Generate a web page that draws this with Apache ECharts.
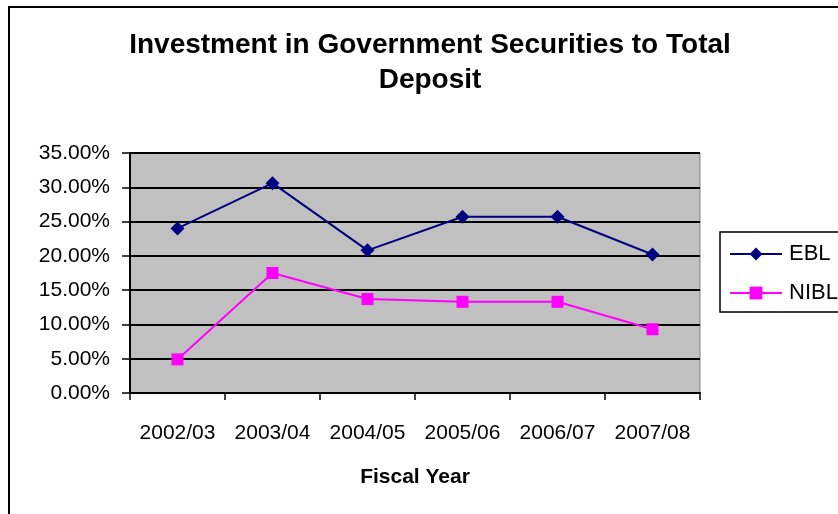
<!DOCTYPE html>
<html>
<head>
<meta charset="utf-8">
<script src="https://cdn.jsdelivr.net/npm/echarts@6/dist/echarts.min.js"></script>
<style>
html,body{margin:0;padding:0;background:#fff;}
#c{width:838px;height:514px;}
</style>
</head>
<body>
<div id="c"></div>
<script>
var categories = ['2002/03','2003/04','2004/05','2005/06','2006/07','2007/08'];
var ebl = [24.0, 30.6, 20.8, 25.7, 25.7, 20.2];
var nibl = [4.9, 17.5, 13.7, 13.3, 13.3, 9.3];
var yTicks = [0, 5, 10, 15, 20, 25, 30, 35];

var chart = echarts.init(document.getElementById('c'), null, {renderer:'canvas'});
var font = 'Liberation Sans, Arial, sans-serif';
chart.setOption({
  animation: false,
  backgroundColor: '#fff',
  textStyle: {fontFamily: font},
  graphic: [{
    type: 'rect', z: -10,
    shape: {x: 9, y: 7, width: 840, height: 520},
    style: {fill: 'none', stroke: '#000', lineWidth: 2}
  }],
  title: {
    text: 'Investment in Government Securities to Total\nDeposit',
    left: 425, top: 23, textAlign: 'center',
    textStyle: {fontFamily: font, fontSize: 28, fontWeight: 'bold', color: '#000', lineHeight: 35}
  },
  legend: {
    orient: 'vertical',
    left: 720, top: 232,
    borderColor: '#000', borderWidth: 1.5, borderRadius: 0,
    padding: [11, 12, 8, 9],
    itemWidth: 52, itemHeight: 16, itemGap: 17,
    textStyle: {fontFamily: font, fontSize: 22, lineHeight: 22, color: '#000', padding: [0,0,0,2]},
    data: ['EBL', 'NIBL']
  },
  grid: {left: 130, top: 153, width: 570, height: 240,
    show: true, backgroundColor: '#C0C0C0', borderColor: '#808080', borderWidth: 1},
  xAxis: {
    type: 'category', data: categories, boundaryGap: true,
    axisLine: {lineStyle: {color: '#000', width: 2}},
    axisTick: {show: true, interval: 0, length: 7, inside: false, lineStyle: {color: '#000', width: 1.5}},
    axisLabel: {interval: 0, hideOverlap: false, margin: 30, fontSize: 21, color: '#000', fontFamily: font},
    name: 'Fiscal Year', nameLocation: 'middle', nameGap: 74,
    nameTextStyle: {fontSize: 21, fontWeight: 'bold', color: '#000', fontFamily: font}
  },
  yAxis: {
    type: 'value', min: 0, max: 35, interval: 5,
    axisLine: {show: true, lineStyle: {color: '#000', width: 2}},
    axisTick: {show: true, length: 8, inside: false, lineStyle: {color: '#000', width: 1.5}},
    axisLabel: {margin: 20, fontSize: 21, color: '#000', fontFamily: font,
      formatter: function(v){ return v.toFixed(2) + '%'; }},
    splitLine: {show: true, lineStyle: {color: '#000', width: 2}}
  },
  series: [{
    name: 'EBL', type: 'line', data: ebl,
    symbol: 'diamond', symbolSize: 14,
    lineStyle: {color: '#000080', width: 2},
    itemStyle: {color: '#000080'}
  }, {
    name: 'NIBL', type: 'line', data: nibl,
    symbol: 'rect', symbolSize: 12,
    lineStyle: {color: '#FF00FF', width: 2},
    itemStyle: {color: '#FF00FF'}
  }]
});
</script>
</body>
</html>
